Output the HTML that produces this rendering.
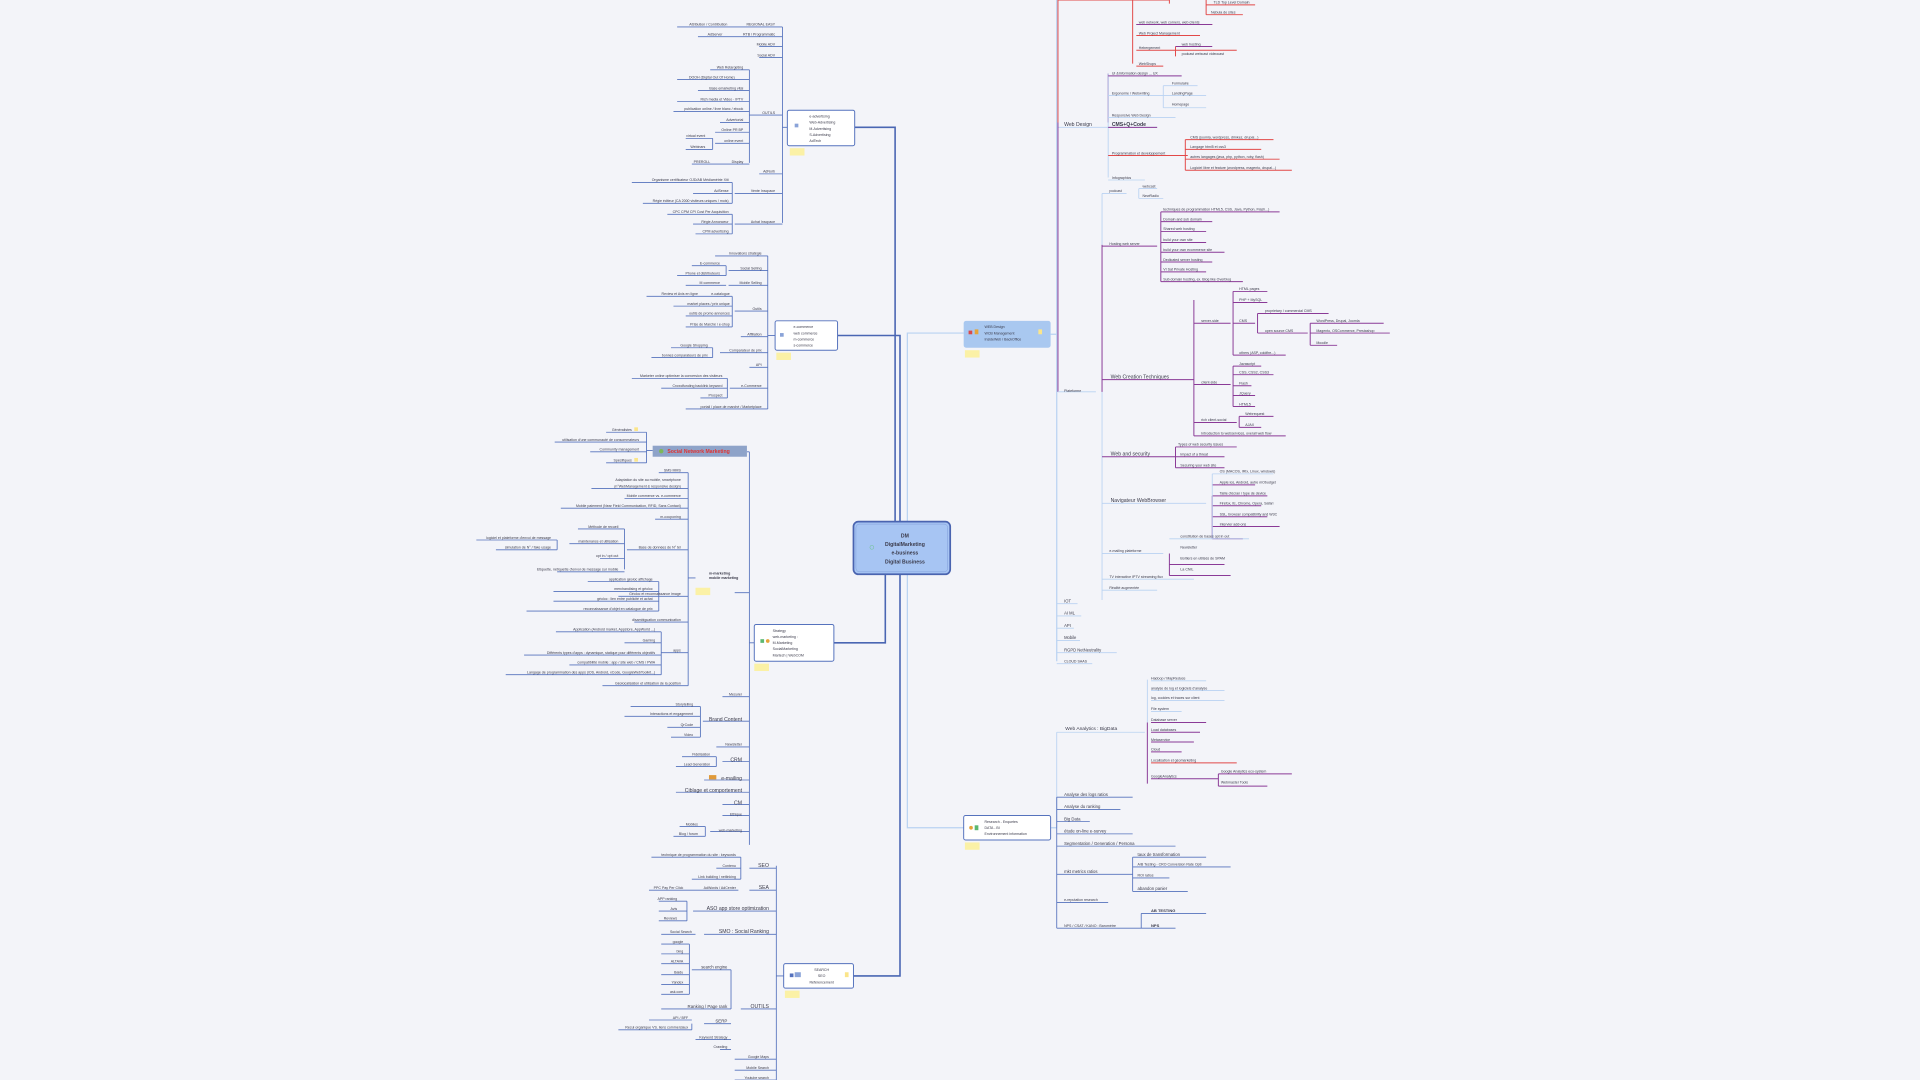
<!DOCTYPE html>
<html><head><meta charset="utf-8">
<style>
html,body{margin:0;padding:0;background:#f3f4f9;}
svg{display:block}
text{font-family:"Liberation Sans",sans-serif;fill:#3a3a4a;font-size:2.9px}
.m{font-size:4.2px}
.l{font-size:4.6px}
.b{font-weight:bold}
.db{stroke:#5572bd;fill:none;stroke-width:0.7}
.db2{stroke:#4a66b3;fill:none;stroke-width:1.3}
.lb{stroke:#b9d2f2;fill:none;stroke-width:1}
.lb2{stroke:#b9d2f2;fill:none;stroke-width:0.7}
.rd{stroke:#e24848;fill:none;stroke-width:0.8}
.pu{stroke:#8a3a97;fill:none;stroke-width:0.8}
.gr{stroke:#c9d4ea;fill:none;stroke-width:0.6}
</style></head><body>
<svg width="1920" height="1080" viewBox="0 0 1568 882" xmlns="http://www.w3.org/2000/svg">
<rect width="1568" height="882" fill="#f3f4f9"/>

<!-- main connectors from center -->
<path class="db2" d="M731 426 V104 H698 M735 426 V274 H684 M723 469 V525 H681 M735 469 V797 H697"/>
<path class="lb" d="M741 426 V272 H787 M741 469 V676 H787 M858 273 H863 M858 676 H863"/>

<!-- center node -->
<rect x="697" y="426" width="79" height="43" rx="4" fill="#a7c5f3" stroke="#4a64b0" stroke-width="1.4"/>
<rect x="699" y="428" width="75" height="39" rx="3" fill="none" stroke="#7d9bd8" stroke-width="0.4"/>
<circle cx="712" cy="447" r="1.6" fill="none" stroke="#6ac48a" stroke-width="0.4"/>
<text x="739" y="439" text-anchor="middle" class="m b" fill="#2b3550">DM</text>
<text x="739" y="446" text-anchor="middle" class="m b">DigitalMarketing</text>
<text x="739" y="453" text-anchor="middle" class="m b">e-business</text>
<text x="739" y="460" text-anchor="middle" class="m b">Digital Business</text>

<!-- ============ e-advertising cluster ============ -->
<rect x="643" y="90" width="55" height="29" rx="1.5" fill="#fff" stroke="#5572bd" stroke-width="0.8"/>
<rect x="649" y="101" width="3" height="3" fill="#8aa3d8"/>
<text x="661" y="96">e-advertising</text><text x="661" y="101">Web-Advertising</text><text x="661" y="106">M-Advertising</text><text x="661" y="111">S-Advertising</text><text x="661" y="116">AdTech</text>
<rect x="645" y="121" width="12" height="6" fill="#fbf1a6"/>
<path class="db" d="M643 104 H639 M639 22 V182
M597 22 H639 M553 22 H597 M597 30 H639 M570 30 H597 M620 38 H639 M620 47 H639
M612 94 H639 M612 57 V133
M580 57 H612 M553 65 H612 M570 74 H612 M553 83 H612 M550 91 H612 M588 100 H612 M584 108 H612 M584 117 H612 M584 134 H612 M565 134 H584 M560 113 H582 M560 122 H582 M582 113 V122
M620 142 H639 M600 158 H639 M598 149 V166 M516 149 H598 M566 158 H598 M525 166 H598
M600 183 H639 M598 175 V191 M545 175 H598 M566 183 H598 M568 191 H598"/>
<text x="633" y="21" text-anchor="end">REGIONAL EASY</text><text x="594" y="21" text-anchor="end">Attribution / Contribution</text>
<text x="633" y="29" text-anchor="end">RTB / Programmatic</text><text x="590" y="29" text-anchor="end">AdServer</text>
<text x="633" y="37" text-anchor="end">Mobile ADV</text><text x="633" y="46" text-anchor="end">Social ADV</text>
<text x="633" y="93" text-anchor="end">OUTILS</text>
<text x="607" y="56" text-anchor="end">Web Retargeting</text><text x="600" y="64" text-anchor="end">DOOH (Digital Out Of Home)</text>
<text x="607" y="73" text-anchor="end">Base emarketing vital</text><text x="607" y="82" text-anchor="end">Rich media et Video · IPTV</text>
<text x="607" y="90" text-anchor="end">publication online / livre blanc / ebook</text><text x="607" y="99" text-anchor="end">Advertorial</text>
<text x="607" y="107" text-anchor="end">Online PR BP</text><text x="607" y="116" text-anchor="end">online event</text>
<text x="576" y="112" text-anchor="end">virtual event</text><text x="576" y="121" text-anchor="end">Webinars</text>
<text x="607" y="133" text-anchor="end">Display</text><text x="580" y="133" text-anchor="end">PREROLL</text>
<text x="633" y="141" text-anchor="end">AdNorb</text>
<text x="633" y="157" text-anchor="end">Vente Inscpace</text>
<text x="595" y="148" text-anchor="end">Organisme certificateur OJD/AB Médiamétrie Xiti</text>
<text x="595" y="157" text-anchor="end">AdSense</text><text x="595" y="165" text-anchor="end">Régie éditeur (CA 2000 visiteurs uniques / mois)</text>
<text x="633" y="182" text-anchor="end">Achat Inscpace</text>
<text x="595" y="174" text-anchor="end">CPC CPM CPI Cost Per Acquisition</text><text x="595" y="182" text-anchor="end">Régie Annonceur</text><text x="595" y="190" text-anchor="end">CPM advertising</text>

<!-- ============ e-commerce cluster ============ -->
<rect x="633" y="262" width="51" height="24" rx="1.5" fill="#fff" stroke="#5572bd" stroke-width="0.8"/>
<rect x="637" y="272" width="3" height="3" fill="#8aa3d8"/>
<text x="648" y="268">e-commerce</text><text x="648" y="273">web commerce</text><text x="648" y="278">m-commerce</text><text x="648" y="283">s-commerce</text>
<rect x="634" y="288" width="12" height="6" fill="#fbf1a6"/>
<path class="db" d="M633 274 H627 M627 209 V334
M584 209 H627 M595 221 H627 M595 233 H627 M600 254 H627 M605 275 H627 M588 288 H627 M612 300 H627 M596 317 H627 M560 334 H627
M593 217 V225 M565 217 H593 M553 225 H593 M560 233 H593
M598 242 V267 M528 242 H598 M550 250 H598 M560 258 H598 M560 267 H598
M582 284 V292 M548 284 H582 M532 292 H582
M594 309 V325 M516 309 H594 M540 317 H594 M572 325 H594"/>
<text x="622" y="208" text-anchor="end">Innovations stratégie</text>
<text x="622" y="220" text-anchor="end">Social Selling</text><text x="588" y="216" text-anchor="end">E-commerce</text><text x="588" y="224" text-anchor="end">Phone et distributeurs</text>
<text x="622" y="232" text-anchor="end">Mobile Selling</text><text x="588" y="232" text-anchor="end">M commerce</text>
<text x="622" y="253" text-anchor="end">Outils</text>
<text x="570" y="241" text-anchor="end">Review et Avis en ligne</text><text x="596" y="241" text-anchor="end">e-catalogue</text>
<text x="596" y="249" text-anchor="end">market places / prix unique</text><text x="596" y="257" text-anchor="end">outils de promo annonces</text><text x="596" y="266" text-anchor="end">Prise de Marché / e-shop</text>
<text x="622" y="274" text-anchor="end">Affiliation</text>
<text x="622" y="287" text-anchor="end">Comparateur de prix</text><text x="578" y="283" text-anchor="end">Google Shopping</text><text x="578" y="291" text-anchor="end">bonnes comparateurs de prix</text>
<text x="622" y="299" text-anchor="end">API</text>
<text x="622" y="316" text-anchor="end">e-Commerce</text>
<text x="590" y="308" text-anchor="end">Marketer online optimiser la conversion des visiteurs</text><text x="590" y="316" text-anchor="end">Crowdfunding backlink keyword</text><text x="590" y="324" text-anchor="end">Prospect</text>
<text x="622" y="333" text-anchor="end">portail / place de marché / Marketplace</text>

<!-- ============ Strategy cluster ============ -->
<rect x="616" y="510" width="65" height="30" rx="1.5" fill="#fff" stroke="#5572bd" stroke-width="0.8"/>
<rect x="621" y="522" width="3" height="3" fill="#5cb870"/><circle cx="627" cy="523.5" r="1.5" fill="#e6a43a"/>
<text x="631" y="516">Strategy</text><text x="631" y="521">web-marketing :</text><text x="631" y="526">M-Marketing</text><text x="631" y="531">SocialMarketing</text><text x="631" y="536">Martech | WebCOM</text>
<rect x="616" y="542" width="12" height="6" fill="#fbf1a6"/>
<path class="db" d="M616 525 H612 M612 369 V690 M610 369 H612 M600 484 H612"/>
<!-- Social network node -->
<rect x="533" y="364" width="77" height="9" fill="#8ea3c9"/>
<circle cx="540" cy="368.5" r="1.8" fill="#7cb85a"/>
<text x="545" y="370" class="m b" fill="#e03232" style="fill:#e03232">Social Network Marketing</text>
<path class="db" d="M533 368 H528 M528 353 V378 M495 353 H528 M453 361 H528 M482 369 H528 M495 378 H528"/>
<text x="516" y="352" text-anchor="end">Généralistes</text><text x="522" y="360" text-anchor="end">utilisation d'une communauté de consommateurs</text>
<text x="522" y="368" text-anchor="end">Community management</text><text x="516" y="377" text-anchor="end">Spécifiques</text>
<rect x="518" y="349" width="3" height="3" fill="#fbe58a"/><rect x="518" y="374" width="3" height="3" fill="#fbe58a"/>
<!-- m-marketing -->
<text x="579" y="469" class="b">m-marketing</text><text x="579" y="473" class="b">mobile marketing</text>
<rect x="568" y="480" width="12" height="6" fill="#fbf1a6"/>
<path class="db" d="M568 472 H562 M562 386 V560
M538 386 H562 M483 399 H562 M510 407 H562 M458 415 H562 M535 424 H562 M512 449 H562 M505 487 H562 M518 508 H562 M540 533 H562 M492 560 H562
M510 432 V465 M472 432 H510 M465 444 H510 M490 456 H510 M455 467 H510 M455 441 V449 M389 441 H455 M405 449 H455
M538 475 V499 M480 475 H538 M452 483 H538 M452 491 H538 M430 499 H538
M540 516 V551 M454 516 H540 M510 525 H540 M428 535 H540 M465 543 H540 M413 551 H540"/>
<text x="556" y="385" text-anchor="end">SMS MMS</text>
<text x="556" y="393" text-anchor="end">Adaptation du site au mobile, smartphone</text><text x="556" y="398" text-anchor="end">(n°WebManagement &amp; responsive design)</text>
<text x="556" y="406" text-anchor="end">Mobile commerce vs. e-commerce</text><text x="556" y="414" text-anchor="end">Mobile paiement (Near Field Communication, RFID, Sans Contact)</text>
<text x="556" y="423" text-anchor="end">m-couponing</text><text x="556" y="448" text-anchor="end">Base de données de N° tél</text>
<text x="505" y="431" text-anchor="end">Méthode de recueil</text><text x="505" y="443" text-anchor="end">maintenance et utilisation</text><text x="505" y="455" text-anchor="end">opt in / opt out</text><text x="505" y="466" text-anchor="end">Etiquette, nétiquette d'envoi de message sur mobile</text>
<text x="450" y="440" text-anchor="end">logiciel et plateforme d'envoi de message</text><text x="450" y="448" text-anchor="end">simulation de N° / fake usage</text>
<text x="556" y="486" text-anchor="end">Géoloc et reconnaissance image</text>
<text x="533" y="474" text-anchor="end">application géoloc affichage</text><text x="533" y="482" text-anchor="end">merchandising et géoloc</text><text x="533" y="490" text-anchor="end">géoloc : lien entre publicité et achat</text><text x="533" y="498" text-anchor="end">reconnaissance d'objet en catalogue de prix</text>
<text x="556" y="507" text-anchor="end">disambiguation communication</text><text x="556" y="532" text-anchor="end">apps</text>
<text x="535" y="515" text-anchor="end">Application (Android market, Appstore, AppWorld ...)</text><text x="535" y="524" text-anchor="end">Gaming</text>
<text x="535" y="534" text-anchor="end">Différents types d'apps : dynamique, statique pour différents objectifs</text><text x="535" y="542" text-anchor="end">compatibilité mobile : app / site web / CMS / PWA</text>
<text x="535" y="550" text-anchor="end">Langage de programmation des apps (iOS, Android, xCode, GoogleWebToolkit...)</text>
<text x="556" y="559" text-anchor="end">Géolocalisation et utilisation de la position</text>
<!-- below strategy -->
<path class="db" d="M590 569 H612 M574 589 H612 M585 610 H612 M590 622 H612 M575 637 H612 M552 647 H612 M590 657 H612 M590 666 H612 M580 679 H612
M572 577 V602 M515 577 H572 M510 585 H572 M545 594 H572 M548 602 H572
M585 618 V626 M557 618 H585 M552 626 H585 M576 675 V683 M555 675 H576 M550 683 H576"/>
<text x="606" y="568" text-anchor="end">Mesurer</text><text x="606" y="589" text-anchor="end" class="m">Brand Content</text>
<text x="566" y="576" text-anchor="end">Storytelling</text><text x="566" y="584" text-anchor="end">Interactions et engagement</text><text x="566" y="593" text-anchor="end">QrCode</text><text x="566" y="601" text-anchor="end">Video</text>
<text x="606" y="609" text-anchor="end">Newsletter</text><text x="606" y="622" text-anchor="end" class="m">CRM</text>
<text x="580" y="617" text-anchor="end">Fidélisation</text><text x="580" y="625" text-anchor="end">Lead Generation</text>
<rect x="579" y="633" width="6" height="3.5" fill="#e09a3a"/><text x="606" y="637" text-anchor="end" class="m">e-mailing</text>
<text x="606" y="647" text-anchor="end" class="m">Ciblage et comportement</text><text x="606" y="657" text-anchor="end" class="m">CM</text>
<text x="606" y="666" text-anchor="end">Ethique</text><text x="606" y="679" text-anchor="end">web-marketing</text>
<text x="570" y="674" text-anchor="end">Mobiles</text><text x="570" y="682" text-anchor="end">Blog / forum</text>

<!-- ============ SEARCH SEO cluster ============ -->
<rect x="640" y="787" width="57" height="20" rx="1.5" fill="#fff" stroke="#5572bd" stroke-width="0.8"/>
<rect x="645" y="795" width="3" height="3" fill="#5572bd"/><rect x="649" y="794" width="5" height="4" fill="#8aa3d8"/>
<text x="671" y="793" text-anchor="middle">SEARCH</text><text x="671" y="798" text-anchor="middle">SEO</text><text x="671" y="803" text-anchor="middle">Référencement</text>
<rect x="690" y="794" width="3" height="4" fill="#fbe58a"/>
<rect x="641" y="809" width="12" height="6" fill="#fbf1a6"/>
<path class="db" d="M640 797 H634 M634 707 V882
M612 709 H634 M612 727 H634 M566 744 H634 M575 763 H634 M605 824 H634 M600 865 H634 M600 874 H634 M600 882 H634
M605 700 V718 M532 700 H605 M585 709 H605 M565 718 H605 M548 727 H603 M530 727 H548
M561 736 V752 M538 736 H561 M538 744 H561 M538 752 H561 M540 763 H568
M597 792 V824 M565 792 H597 M540 824 H597 M575 836 H597 M568 849 H597 M588 857 H597 M565 836 V841 M530 833 H565 M505 841 H565
M563 771 V812 M540 771 H563 M540 779 H563 M540 787 H563 M540 796 H563 M540 804 H563 M540 812 H563"/>
<text x="628" y="708" text-anchor="end" class="m">SEO</text><text x="601" y="699" text-anchor="end">technique de programmation du site : keywords</text>
<text x="601" y="708" text-anchor="end">Contenu</text><text x="601" y="717" text-anchor="end">Link building / netlinking</text>
<text x="628" y="726" text-anchor="end" class="m">SEA</text><text x="601" y="726" text-anchor="end">AdWords / AdCenter</text><text x="558" y="726" text-anchor="end">PPC Pay Per Click</text>
<text x="628" y="743" text-anchor="end" class="m">ASO app store optimization</text>
<text x="553" y="735" text-anchor="end">APP ranking</text><text x="553" y="743" text-anchor="end">Avis</text><text x="553" y="751" text-anchor="end">Reviews</text>
<text x="628" y="762" text-anchor="end" class="m">SMO : Social Ranking</text><text x="565" y="762" text-anchor="end">Social Search</text>
<text x="628" y="823" text-anchor="end" class="m">OUTILS</text>
<text x="594" y="791" text-anchor="end" class="m" style="font-size:3.4px">search engine</text>
<text x="558" y="770" text-anchor="end">google</text><text x="558" y="778" text-anchor="end">bing</text><text x="558" y="786" text-anchor="end">ALTAVA</text><text x="558" y="795" text-anchor="end">Baidu</text><text x="558" y="803" text-anchor="end">Yandex</text><text x="558" y="811" text-anchor="end">ask.com</text>
<text x="594" y="823" text-anchor="end" class="m" style="font-size:3.6px">Ranking / Page rank</text>
<text x="594" y="835" text-anchor="end" class="m" style="font-size:3.6px">SERP</text><text x="562" y="832" text-anchor="end">API / BFF</text><text x="562" y="840" text-anchor="end">Recul organique VS. liens commerciaux</text>
<text x="594" y="848" text-anchor="end">Keyword Strategy</text><text x="594" y="856" text-anchor="end">Crawling</text>
<text x="628" y="864" text-anchor="end">Google Maps</text><text x="628" y="873" text-anchor="end">Mobile Search</text><text x="628" y="881" text-anchor="end">Youtube search</text>

<!-- ============ Right: Web Design node ============ -->
<rect x="787" y="262" width="71" height="22" rx="2" fill="#a9c8f0"/>
<rect x="791" y="270" width="3" height="3" fill="#d94a4a"/><rect x="796" y="269" width="3" height="4" fill="#e6a43a"/>
<text x="804" y="268">WEB Design</text><text x="804" y="273">WCB Management</text><text x="804" y="278">InsideWeb / BackOffice</text>
<rect x="848" y="269" width="3" height="4" fill="#fbe58a"/>
<rect x="788" y="286" width="12" height="6" fill="#fbf1a6"/>
<path class="lb" d="M863 0 V540"/>
<path class="rd" d="M864 0 V100 M864 0 H925 M925 0 V52 M925 0 H955 M955 0 V3 M985 0 V12 M985 4 H1025 M985 12 H1015
M928 20 H990 M928 29 H980 M928 41 H960 M958 41 H1010 M960 38 V46 M928 54 H950"/>
<path class="pu" d="M928 20 H990 M960 38 H990 M905 60 V100"/>
<text x="991" y="3">TLD Top Level Domain</text><text x="989" y="11">Nebula de sites</text>
<text x="930" y="19">web network, web corners, web clients</text><text x="930" y="28">Web Project Management</text>
<text x="930" y="40">Hebergement</text><text x="965" y="37">web hosting</text><text x="965" y="45">podcast webcast videocast</text><text x="930" y="53">WebShops</text>
<path class="lb2" d="M864 104 H895 M905 60 V145 M895 104 H905 M905 62 H965 M905 78 H950 M950 70 V88 M950 70 H978 M950 78 H985 M950 88 H985 M905 96 H960 M905 104 H945 M905 147 H935"/>
<path class="pu" d="M905 62 H965 M905 104 H945"/>
<path class="rd" d="M905 127 H970 M968 114 V139 M968 114 H1040 M968 122 H1030 M968 130 H1045 M968 139 H1055"/>
<text x="869" y="103" class="m">Web Design</text>
<text x="908" y="61">UI &amp;Information design ... UX</text><text x="908" y="77">Ergonomie / Webwriting</text>
<text x="957" y="69">Formulaire</text><text x="957" y="77">LandingPage</text><text x="957" y="86">Homepage</text>
<text x="908" y="95">Responsive Web Design</text><text x="908" y="103" class="m b">CMS+Q+Code</text>
<text x="908" y="126">Programmation et developpement</text>
<text x="972" y="113">CMS (joomla, wordpress, drinkez, drupal...)</text><text x="972" y="121">Langage html5 et css3</text><text x="972" y="129">autres langages (java, php, python, ruby, flash)</text><text x="972" y="138">Logiciel libre et feature (wordpress, magento, drupal...)</text>
<text x="908" y="146">Infographics</text>

<!-- Plateforme -->
<path class="pu" d="M864 100 V320"/>
<path class="lb2" d="M864 320 H895 M900 158 V490 M900 158 H920 M930 154 V162 M930 154 H945 M930 162 H950"/>
<text x="869" y="320">Plateforme</text>
<text x="906" y="157">podcast</text><text x="933" y="153">webcast</text><text x="933" y="161">NewRadio</text>
<path class="pu" d="M900 200 V320 M900 201 H945 M948 173 V230 M948 173 H1045 M948 181 H990 M948 189 H985 M948 198 H985 M948 206 H1000 M948 214 H990 M948 222 H985 M948 230 H1015
M900 310 H975 M975 245 V356 M975 264 H1005 M1007 238 V290 M1007 238 H1035 M1007 247 H1035 M1007 264 H1025 M1027 256 V272 M1027 256 H1085 M1027 272 H1068 M1070 264 V282 M1070 264 H1130 M1070 272 H1135 M1070 282 H1092 M1007 290 H1050
M975 314 H1005 M1007 299 V332 M1007 299 H1030 M1007 306 H1040 M1007 315 H1022 M1007 323 H1025 M1007 332 H1025 M975 345 H1010 M1012 340 V349 M1012 340 H1040 M1012 349 H1030 M975 356 H1050
M900 373 H960 M960 365 V382 M960 365 H1010 M960 373 H1000 M960 382 H1000 M990 396 H1025 M990 405 H1035 M990 413 H1030 M990 422 H1035 M990 430 H1045 M990 440 H1015 M990 405 V440
M955 461 H1000 M955 470 H1005 M955 452 V470"/>
<text x="906" y="200">Hosting web server</text>
<text x="950" y="172">techniques de programmation HTML5, CSS, Java, Python, Flash...)</text><text x="950" y="180">Domain and sub domain</text><text x="950" y="188">Shared web hosting</text>
<text x="950" y="197">build your own site</text><text x="950" y="205">build your own ecommerce site</text><text x="950" y="213">Dedicated server hosting</text><text x="950" y="221">VI Sat Private Hosting</text><text x="950" y="229">Sub domain hosting, ex. Blog like Overblog</text>
<text x="907" y="309" class="m">Web Creation Techniques</text>
<text x="981" y="263">server-side</text><text x="1012" y="237">HTML pages</text><text x="1012" y="246">PHP + MySQL</text><text x="1012" y="263">CMS</text>
<text x="1033" y="255">proprietary / commercial CMS</text><text x="1033" y="271">open source CMS</text>
<text x="1075" y="263">WordPress, Drupal, Joomla</text><text x="1075" y="271">Magento, OSCommerce, Prestashop</text><text x="1075" y="281">Moodle</text>
<text x="1012" y="289">others (ASP, coldfire...)</text>
<text x="981" y="313">client-side</text><text x="1012" y="298">Javascript</text><text x="1012" y="305">CSS, CSS2, CSS3</text><text x="1012" y="314">Flash</text><text x="1012" y="322">JQuery</text><text x="1012" y="331">HTML5</text>
<text x="981" y="344">rich client-social</text><text x="1017" y="339">Webrequest</text><text x="1017" y="348">AJAX</text>
<text x="981" y="355">Introduction to webservices, overall web flow</text>
<text x="907" y="372" class="m">Web and security</text>
<text x="962" y="364">Types of web security issues</text><text x="964" y="372">Impact of a threat</text><text x="964" y="381">Securing your web site</text>
<text x="907" y="410" class="m">Navigateur WebBrowser</text>
<path class="lb2" d="M900 411 H985 M990 387 V440 M990 387 H1040"/>
<text x="996" y="386">OS (MACOS, IRIx, Linux, windows)</text><text x="996" y="395">Apple ios, Android, autre mObudget</text><text x="996" y="404">Taille d'écran / type de device</text>
<text x="996" y="412">Firefox, IE, Chrome, Opera, Safari</text><text x="996" y="421">SSL, browser compatibility and W3C</text><text x="996" y="429">Intervier add-ons</text>
<path class="lb2" d="M900 452 H950 M955 440 H1020 M900 473 H975 M900 482 H945"/>
<text x="906" y="451">e-mailing plateforme</text>
<text x="964" y="439">constitution de bases opt in out</text><text x="964" y="448">Newsletter</text><text x="964" y="457">Boîtiers en utilisés de SPAM</text><text x="964" y="466">La CNIL</text>
<text x="906" y="472">TV interactive IPTV streaming flux</text><text x="906" y="481">Réalité augmentée</text>
<path class="lb2" d="M863 493 H880 M863 503 H883 M863 513 H877 M863 523 H882 M863 533 H912 M863 542 H892"/>
<text x="869" y="492" class="m" style="font-size:3.4px">IOT</text><text x="869" y="502" class="m" style="font-size:3.4px">AI ML</text><text x="869" y="512" class="m" style="font-size:3.4px">API</text>
<text x="869" y="522" class="m" style="font-size:3.4px">Mobile</text><text x="869" y="532" class="m" style="font-size:3.4px">RGPD NetNeutrality</text><text x="869" y="541">CLOUD SAAS</text>

<!-- ============ Right: Search-Enquete node ============ -->
<rect x="787" y="666" width="71" height="20" rx="1.5" fill="#fff" stroke="#5572bd" stroke-width="0.8"/>
<circle cx="793" cy="676" r="1.5" fill="#e6a43a"/><rect x="796" y="674" width="3" height="4" fill="#5cb870"/>
<text x="804" y="672">Research - Enquetes</text><text x="804" y="677">DATA - BI</text><text x="804" y="682">Environnement information</text>
<rect x="788" y="688" width="12" height="6" fill="#fbf1a6"/>
<path class="lb2" d="M863 598 V676 M863 598 H935 M937 555 V590 M940 556 H985 M940 564 H1000 M940 572 H1000 M940 581 H965"/>
<path class="db" d="M863 676 V758 M863 651 V676 M863 651 H925 M863 661 H915 M863 671 H890 M863 681 H925 M863 691 H960 M863 714 H925 M925 700 V728 M925 700 H985 M925 708 H1005 M925 717 H955 M925 728 H970 M863 737 H905 M863 758 H932 M932 746 V758 M932 746 H985 M932 758 H960"/>
<path class="pu" d="M937 590 V640 M940 590 H985 M940 598 H980 M940 606 H975 M940 614 H965 M940 636 H995 M995 632 V642 M995 632 H1055 M995 642 H1035"/>
<path class="rd" d="M940 623 H1010"/>
<text x="870" y="596" class="m" style="font-size:4px">Web Analytics : BigData</text>
<text x="940" y="555">Hadoop / MapReduce</text><text x="940" y="563">analyse de log et logiciels d'analyse</text><text x="940" y="571">log, cookies et traces sur client</text>
<text x="940" y="580">File system</text><text x="940" y="589">Database server</text><text x="940" y="597">Load databases</text><text x="940" y="605">Metaservice</text><text x="940" y="613">Cloud</text>
<text x="940" y="622">Localisation et géomarketing</text><text x="940" y="635">GoogleAnalytics</text>
<text x="997" y="631">Google Analytics eco-system</text><text x="997" y="640">Webmaster Tools</text>
<text x="869" y="650" class="m" style="font-size:3.5px">Analyse des logs ratios</text><text x="869" y="660" class="m" style="font-size:3.5px">Analyse du ranking</text>
<text x="869" y="670" class="m" style="font-size:3.5px">Big Data</text><text x="869" y="680" class="m" style="font-size:3.5px">étude on-line e-survey</text>
<text x="869" y="690" class="m" style="font-size:3.5px">Segmentation / Generation / Persona</text>
<text x="869" y="713" class="m" style="font-size:3.5px">mkt metrics ratios</text>
<text x="929" y="699" class="m" style="font-size:3.5px">taux de transformation</text><text x="929" y="707">A/B Testing - CRO Conversion Rate Opti</text>
<text x="929" y="716">ROI ratios</text><text x="929" y="727" class="m" style="font-size:3.5px">abandon panier</text>
<text x="869" y="736">e-reputation research</text><text x="869" y="757">NPS / CSAT / KANO : Baromètre</text>
<text x="940" y="745" class="b" style="font-size:3.3px">AB TESTING</text><text x="940" y="757" class="b" style="font-size:3.3px">NPS</text>
</svg>
</body></html>
